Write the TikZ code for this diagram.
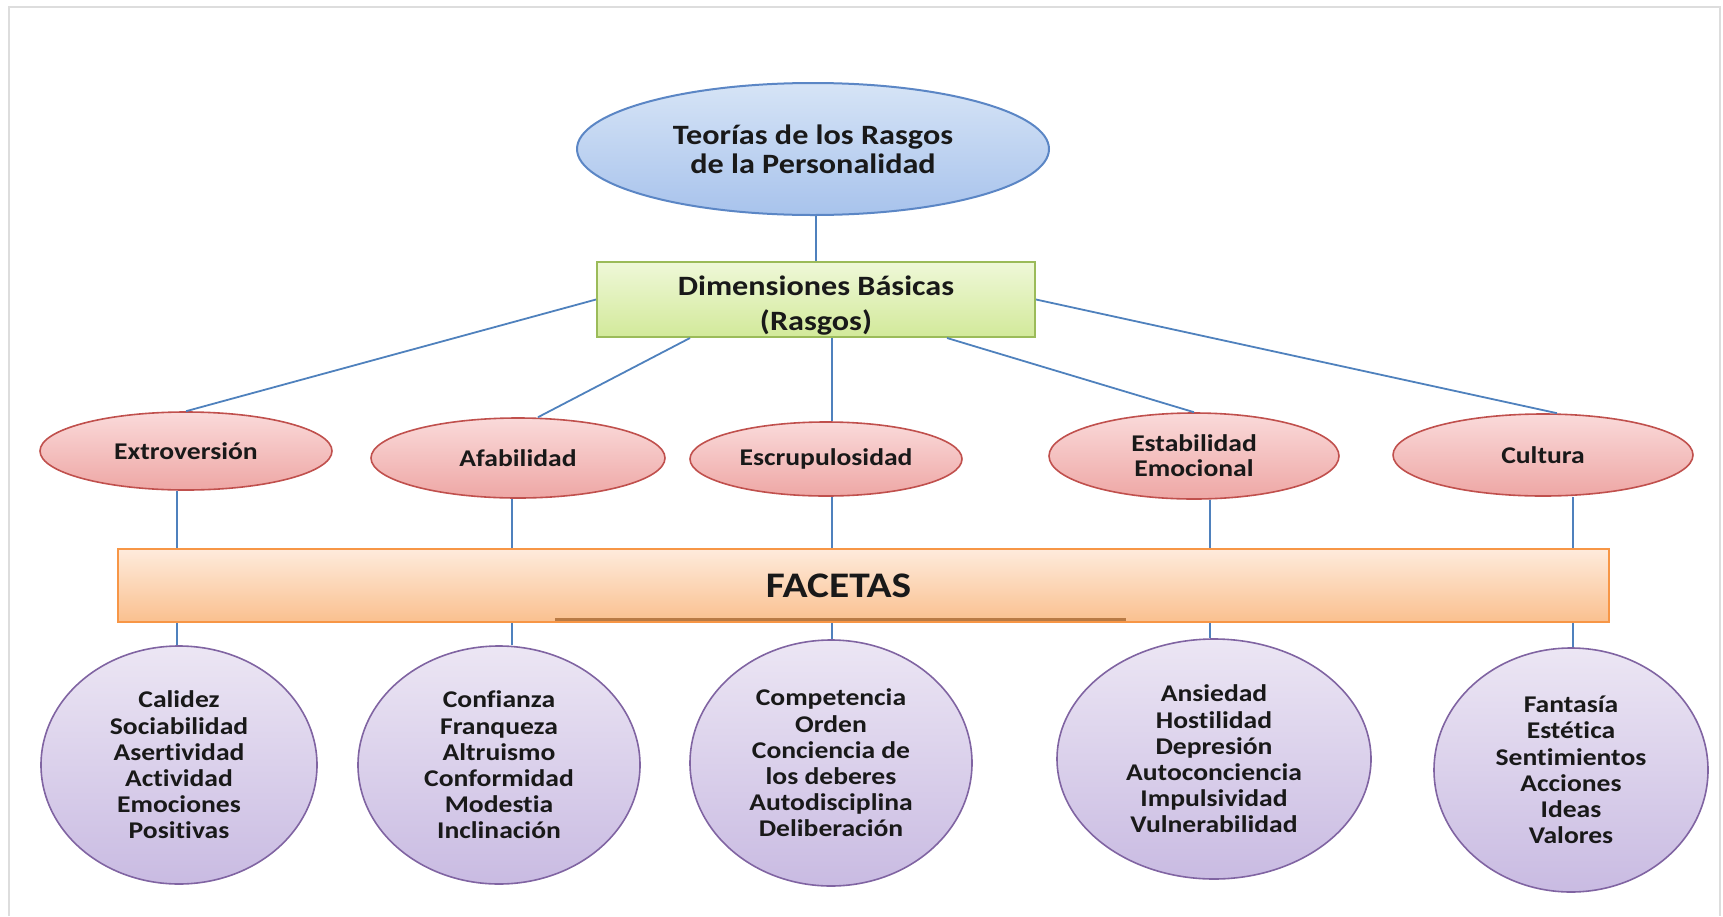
\documentclass[tikz,border=0pt]{standalone}
\usepackage{fontspec}
\setmainfont{Carlito}[FakeStretch=1.15, Ligatures=NoCommon]
\usepackage{xcolor}
\usetikzlibrary{positioning,shapes.geometric}

\definecolor{linkblue}{HTML}{4F81BD}
\definecolor{blueline}{HTML}{5B86C5}
\definecolor{bluetop}{HTML}{D6E4F6}
\definecolor{bluebot}{HTML}{A8C3EC}
\definecolor{greenline}{HTML}{9BBB59}
\definecolor{greentop}{HTML}{EFF8D8}
\definecolor{greenbot}{HTML}{D2E99A}
\definecolor{redline}{HTML}{C0504D}
\definecolor{redtop}{HTML}{FADADA}
\definecolor{redbot}{HTML}{EEA7A5}
\definecolor{orangeline}{HTML}{F79646}
\definecolor{orangetop}{HTML}{FEEBDC}
\definecolor{orangebot}{HTML}{FAC08F}
\definecolor{facetline}{HTML}{B87A45}
\definecolor{purpleline}{HTML}{8064A2}
\definecolor{purpletop}{HTML}{ECE6F4}
\definecolor{purplebot}{HTML}{C9BBE2}
\definecolor{framegray}{HTML}{DDDDDD}

\begin{document}
\begin{tikzpicture}[x=0.5pt, y=-0.5pt,
    every node/.style={text=black!90, align=center, inner sep=0pt},
    teoria/.style={ellipse, draw=blueline, line width=1pt, top color=bluetop, bottom color=bluebot,
        minimum width=236pt, minimum height=66pt, font=\bfseries\fontsize{14}{14.5}\selectfont},
    dimbox/.style={rectangle, draw=greenline, line width=1pt, top color=greentop, bottom color=greenbot,
        minimum width=219pt, minimum height=37.5pt, font=\bfseries\fontsize{14}{17.5}\selectfont},
    rasgo/.style={ellipse, draw=redline, line width=0.8pt, top color=redtop, bottom color=redbot,
        font=\bfseries\fontsize{12}{12.6}\selectfont},
    facetbox/.style={rectangle, draw=orangeline, line width=1pt, top color=orangetop, bottom color=orangebot,
        minimum width=745.5pt, minimum height=36.5pt, font=\bfseries\fontsize{18}{20}\selectfont},
    faceta/.style={ellipse, draw=purpleline, line width=0.8pt, top color=purpletop, bottom color=purplebot,
        font=\bfseries\fontsize{12}{13.1}\selectfont},
    link/.style={draw=linkblue, line width=0.9pt}]

    \useasboundingbox (0,0) rectangle (1723,916);

    % Frame
    \draw[framegray, line width=1pt] (9,916) -- (9,7) -- (1720,7) -- (1720,916);

    % Title and dimensions
    \node[teoria] (teoria) at (813,149) {Teorías de los Rasgos\\de la Personalidad};
    \node[dimbox] (dim) at (816,299.5) {\rule{0pt}{16pt}Dimensiones Básicas\\(Rasgos)};

    % Traits
    \node[rasgo, minimum width=146pt, minimum height=39pt] (extro) at (186,451) {Extroversión};
    \node[rasgo, minimum width=147pt, minimum height=40pt] (afab) at (518,458) {Afabilidad};
    \node[rasgo, minimum width=136pt, minimum height=37pt] (escr) at (826,459) {Escrupulosidad};
    \node[rasgo, minimum width=145pt, minimum height=43pt] (estab) at (1194,456) {Estabilidad\\Emocional};
    \node[rasgo, minimum width=150pt, minimum height=41pt] (cult) at (1543,455) {Cultura};

    % Facets bar
    \node[facetbox] (facetas) at (863.5,585.5) {\hspace*{-25pt}FACETAS};
    \draw[facetline, line width=1.5pt] (555,619) -- (1126,619);

    % Facets
    \node[faceta, minimum width=138pt, minimum height=119pt] (cal) at (179,765)
        {Calidez\\Sociabilidad\\Asertividad\\Actividad\\Emociones\\Positivas};
    \node[faceta, minimum width=141pt, minimum height=119pt] (conf) at (499,765)
        {Confianza\\Franqueza\\Altruismo\\Conformidad\\Modestia\\Inclinación};
    \node[faceta, minimum width=141pt, minimum height=123pt] (comp) at (831,763)
        {Competencia\\Orden\\Conciencia de\\los deberes\\Autodisciplina\\Deliberación};
    \node[faceta, minimum width=157pt, minimum height=120pt] (ans) at (1214,759)
        {Ansiedad\\Hostilidad\\Depresión\\Autoconciencia\\Impulsividad\\Vulnerabilidad};
    \node[faceta, minimum width=137pt, minimum height=122pt] (fan) at (1571,770)
        {Fantasía\\Estética\\Sentimientos\\Acciones\\Ideas\\Valores};

    % Connectors
    \draw[link] (dim.north |- teoria.south) -- (dim.north);
    \draw[link] (dim.west) -- (extro.north);
    \draw[link] ([xshift=-63pt]dim.south) -- ([xshift=10pt]afab.north);
    \draw[link] ([xshift=8pt]dim.south) -- ([xshift=8pt]dim.south |- escr.north);
    \draw[link] ([xshift=65.5pt]dim.south) -- (estab.north);
    \draw[link] (dim.east) -- ([xshift=7pt]cult.north);

    \foreach \r/\f/\s in {extro/cal/-4.5pt, afab/conf/-3pt, escr/comp/3pt, estab/ans/8pt, cult/fan/15pt} {
        \draw[link] ([xshift=\s]\r.south) -- ([xshift=\s]\r.south |- facetas.north);
        \draw[link] ([xshift=\s]\r.south |- facetas.south) -- ([xshift=\s]\r.south |- \f.north);
    }
\end{tikzpicture}
\end{document}
